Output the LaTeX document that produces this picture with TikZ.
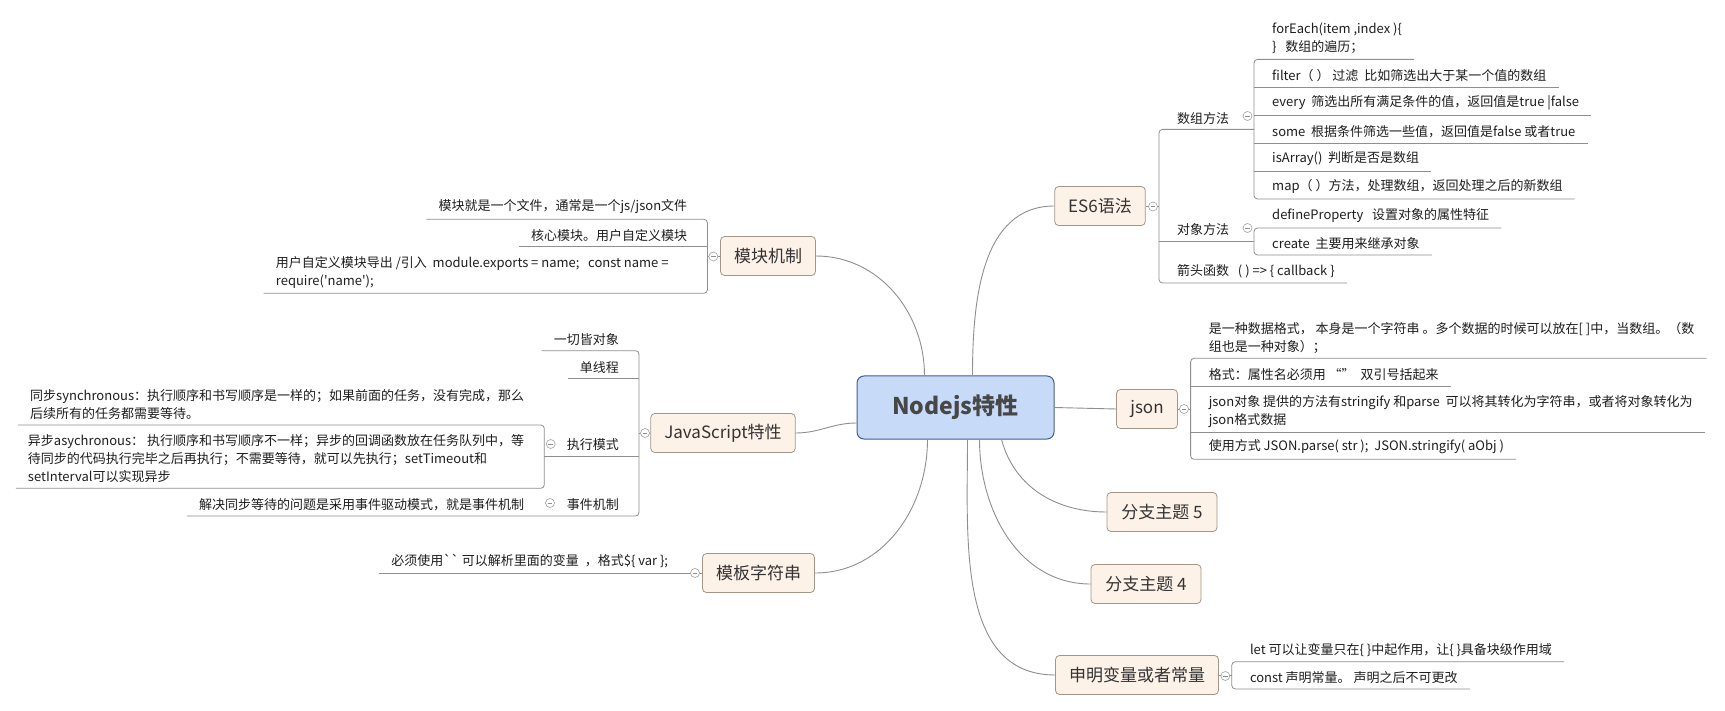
\documentclass[tikz,border=0pt]{standalone}
\usepackage{fontspec}
\newfontfamily\mmfont{Noto Sans CJK SC}
\usepackage{xcolor}
\usetikzlibrary{positioning}

\definecolor{topicfill}{HTML}{FDF2E8}
\definecolor{topicline}{HTML}{A39689}
\definecolor{rootfill}{HTML}{C7DBF8}
\definecolor{rootline}{HTML}{3F5F8E}
\definecolor{branch}{HTML}{8F8F8F}
\definecolor{ink}{HTML}{1E1E1E}

\begin{document}
\begin{tikzpicture}[
    x=1pt, y=-1pt,
    root/.style={draw=rootline, fill=rootfill, rounded corners=7pt, line width=1pt,
                 minimum width=197pt, minimum height=63pt, inner sep=0pt,
                 font={\mmfont\bfseries\fontsize{23}{26}\selectfont}, text=black!72},
    topic/.style={draw=topicline, fill=topicfill, rounded corners=4pt, line width=0.8pt,
                  inner xsep=13.5pt, inner ysep=0pt, minimum height=39pt,
                  font={\mmfont\fontsize{17}{20}\selectfont}, text=black!80},
    leaf/.style={inner xsep=12pt, inner ysep=5pt, align=left, text=ink,
                 font={\mmfont\fontsize{13}{18}\selectfont}},
    ln/.style={draw=branch, line width=0.8pt, rounded corners=3.5pt},
    twig/.style={draw=branch, line width=0.9pt},
    fold/.style={circle, draw=branch!85, fill=white, line width=0.6pt,
                 minimum size=9pt, inner sep=0pt,
                 path picture={\draw[branch, line width=0.6pt]
                   ([xshift=-2.4pt]path picture bounding box.center) --
                   ([xshift=2.4pt]path picture bounding box.center);}}
]
\fill[white] (0,0) rectangle (1725,711);
\useasboundingbox (0,0) rectangle (1725,711);

% central topic and main branches
\node[root] (nj) at (955.5,407.5) {Nodejs特性};
\node[topic, minimum width=90pt] (es6) at (1100,206) {ES6语法};
\node[topic, minimum width=95pt] (mod) at (768,256) {模块机制};
\node[topic, minimum width=142pt] (jsc) at (723,433) {JavaScript特性};
\node[topic, minimum width=112pt] (tpl) at (758.5,573) {模板字符串};
\node[topic, minimum width=61pt] (json) at (1147,409) {json};
\node[topic, minimum width=110pt] (br5) at (1162,512) {分支主题 5};
\node[topic, minimum width=110pt] (br4) at (1146,584) {分支主题 4};
\node[topic, minimum width=162pt] (decl) at (1137,675) {申明变量或者常量};

\draw[twig] ([xshift=68pt]nj.north west) to[out=90, in=0] (mod.east);
\draw[twig] ([xshift=116pt]nj.north west) to[out=90, in=180] (es6.west);
\draw[twig] ([yshift=-15.5pt]nj.west) to[out=180, in=0] (jsc.east);
\draw[twig] (nj.east) -- (json.west);
\draw[twig] ([xshift=71pt]nj.south west) to[out=-90, in=0] (tpl.east);
\draw[twig] ([xshift=111pt]nj.south west) to[out=-90, in=180] (decl.west);
\draw[twig] ([xshift=123pt]nj.south west) to[out=-90, in=180] (br4.west);
\draw[twig] ([xshift=145pt]nj.south west) to[out=-75, in=180] (br5.west);

% ES6
\coordinate (es6V) at (1159,0);
\coordinate (arrV) at (1254,0);
\node[leaf, anchor=south west] (arr) at (1165,129.4) {数组方法};
\node[leaf, anchor=south west] (obj) at (1165,241) {对象方法};
\node[leaf, anchor=south west] (arw) at (1165,283) {箭头函数~~~( )~=>~\{ callback \}};
\node[leaf, anchor=south west] (a1) at (1260,59.4) {forEach(item ,index )\{\\\}~~~数组的遍历；};
\node[leaf, anchor=south west] (a2) at (1260,87) {filter（ ）~过滤~~比如筛选出大于某一个值的数组};
\node[leaf, anchor=south west] (a3) at (1260,115) {every~~筛选出所有满足条件的值，返回值是true |false};
\node[leaf, anchor=south west] (a4) at (1260,143) {some~~根据条件筛选一些值，返回值是false 或者true};
\node[leaf, anchor=south west] (a5) at (1260,171) {isArray()~~判断是否是数组};
\node[leaf, anchor=south west] (a6) at (1260,199) {map（ ）方法，处理数组，返回处理之后的新数组};
\node[leaf, anchor=south west] (o1) at (1260,228) {defineProperty~~~设置对象的属性特征};
\node[leaf, anchor=south west] (o2) at (1260,255) {create~~主要用来继承对象};
\draw[ln] (es6.east) -- (es6V |- es6.east);
\draw[ln] (arrV |- arr.south) -- (es6V |- arr.south) -- (es6V |- arw.south) -- (arw.south east);
\draw[ln] (es6V |- obj.south) -- (arrV |- obj.south);
\draw[ln] (a1.south east) -- (arrV |- a1.south) -- (arrV |- a6.south) -- (a6.south east);
\foreach \k in {a2,a3,a4,a5} \draw[ln] (arrV |- \k.south) -- (\k.south east);
\draw[ln] (o1.south east) -- (arrV |- o1.south) -- (arrV |- o2.south) -- (o2.south east);

% module
\coordinate (modV) at (707.4,0);
\node[leaf, anchor=south east] (m1) at (699.4,219.3) {模块就是一个文件，通常是一个js/json文件};
\node[leaf, anchor=south east] (m2) at (699.4,246.7) {核心模块。用户自定义模块};
\node[leaf, anchor=south west] (m3) at (263.7,293.3) {用户自定义模块导出 /引入~~module.exports = name;~~~const name =\\require('name');};
\draw[ln] (mod.west) -- (modV |- mod.west);
\draw[ln] (m1.south west) -- (modV |- m1.south) -- (modV |- m3.south) -- (m3.south west);
\draw[ln] (m2.south west) -- (modV |- m2.south);

% javascript
\coordinate (jscV) at (639,0);
\coordinate (runV) at (544.3,0);
\node[leaf, anchor=south east] (j1) at (631,350.7) {一切皆对象};
\node[leaf, anchor=south east] (j2) at (631,378.3) {单线程};
\node[leaf, anchor=south east] (j3) at (631,456) {执行模式};
\node[leaf, anchor=south east] (j4) at (631,516) {事件机制};
\node[leaf, anchor=south east] (sync) at (536.3,425) {同步synchronous：执行顺序和书写顺序是一样的；如果前面的任务，没有完成，那么\\后续所有的任务都需要等待。};
\node[leaf, anchor=south east] (async) at (536.3,488.3) {异步asychronous：~执行顺序和书写顺序不一样；异步的回调函数放在任务队列中，等\\待同步的代码执行完毕之后再执行；不需要等待，就可以先执行；setTimeout和\\setInterval可以实现异步};
\node[leaf, anchor=south east] (evt) at (536.3,516) {解决同步等待的问题是采用事件驱动模式，就是事件机制};
\draw[ln] (jsc.west) -- (jscV |- jsc.west);
\draw[ln] (j1.south west) -- (jscV |- j1.south) -- (jscV |- j4.south) -- (evt.south west);
\draw[ln] (j2.south west) -- (jscV |- j2.south);
\draw[ln] (runV |- j3.south) -- (jscV |- j3.south);
\draw[ln] (sync.south west) -- (runV |- sync.south) -- (runV |- async.south) -- (async.south west);

% template string
\node[leaf, anchor=south east] (tp1) at (680.3,573) {必须使用``~可以解析里面的变量~~，格式\$\{ var \};};
\draw[ln] (tp1.south west) -- (tpl.west);

% json
\coordinate (jsonV) at (1190.6,0);
\node[leaf, anchor=south west] (s1) at (1196.6,358.3) {是一种数据格式，~本身是一个字符串~。多个数据的时候可以放在[ ]中，当数组。（数\\组也是一种对象）；};
\node[leaf, anchor=south west] (s2) at (1196.6,386) {格式：属性名必须用 “”~~双引号括起来};
\node[leaf, anchor=south west] (s3) at (1196.6,432.7) {json对象 提供的方法有stringify 和parse~~可以将其转化为字符串，或者将对象转化为\\json格式数据};
\node[leaf, anchor=south west] (s4) at (1196.6,459.3) {使用方式 JSON.parse( str );~~JSON.stringify( aObj )};
\draw[ln] (json.east) -- (jsonV |- json.east);
\draw[ln] (s1.south east) -- (jsonV |- s1.south) -- (jsonV |- s4.south) -- (s4.south east);
\foreach \k in {s2,s3} \draw[ln] (jsonV |- \k.south) -- (\k.south east);

% declarations
\coordinate (declV) at (1231.8,0);
\node[leaf, anchor=south west] (d1) at (1237.8,661.7) {let 可以让变量只在\{ \}中起作用，让\{ \}具备块级作用域};
\node[leaf, anchor=south west] (d2) at (1237.8,689) {const 声明常量。~声明之后不可更改};
\draw[ln] (decl.east) -- (declV |- decl.east);
\draw[ln] (d1.south east) -- (declV |- d1.south) -- (declV |- d2.south) -- (d2.south east);

% fold markers
\node[fold] (fEs6) at (1153,206.5) {};
\node[fold] (fArr) at (1247.5,116) {};
\node[fold] (fObj) at (1247.5,228) {};
\node[fold] (fMod) at (713.3,256.5) {};
\node[fold] (fJsc) at (645,433) {};
\node[fold] (fRun) at (550.7,444) {};
\node[fold] (fEvt) at (550,503) {};
\node[fold] (fTpl) at (695,573) {};
\node[fold] (fJson) at (1184,409) {};
\node[fold] (fDecl) at (1225.3,676) {};
\end{tikzpicture}
\end{document}
